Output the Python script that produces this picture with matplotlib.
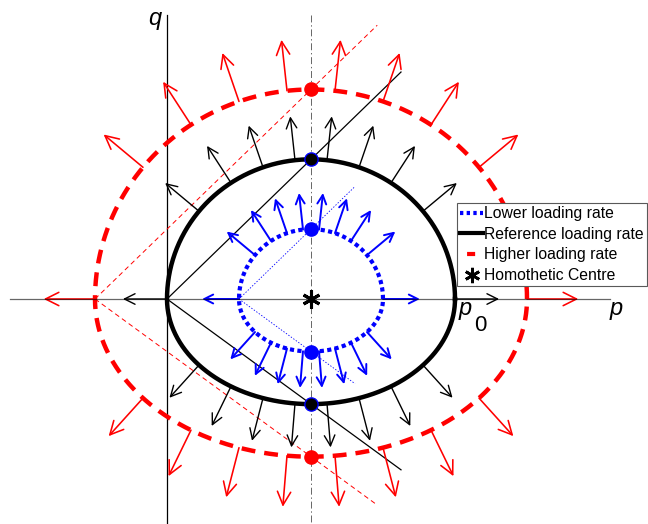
import numpy as np
import matplotlib
matplotlib.use('Agg')
import matplotlib.pyplot as plt
from matplotlib.lines import Line2D

plt.rcParams['font.family'] = ['Liberation Sans', 'DejaVu Sans']
plt.rcParams['lines.scale_dashes'] = False

# Yield surface (elliptical, different slopes in compression / extension)
p0 = 1.0
M_comp = 0.97
M_ext = 0.73
centre_p = 0.5          # homothetic centre sits at (p0/2, 0)

rate_labels = ['Lower loading rate', 'Reference loading rate', 'Higher loading rate']
rate_scale = [0.5, 1.0, 1.5]        # homothetic size of each surface
arrow_len = [0.128, 0.153, 0.178]    # length of the plastic flow vectors
line_reach = [0.403, 0.8125, 0.98]   # p-extent of the M lines from each apex
n_arrows = 10

colors = ['#0000ff', 'k', '#ff0000']
curve_ls = [(0, (3.0, 2.4)), '-', (0, (10, 6.5))]
curve_lw = [3.0, 3.2, 3.2]
line_ls = [(0, (1.0, 1.2)), '-', (0, (3.5, 2.5))]
line_lw = [0.6, 0.9, 0.7]
arrow_lw = [1.4, 1.0, 1.15]
head_scale = [16, 19, 24]
dot_edge = ['#0000ff', '#0000ff', '#ff0000']

px = 288.0  # pixels per unit p0
W, H = 648, 524
x_apex, y_axis = 167, 299


def surface(s, n=600):
    r = 0.5 * s * p0
    t = np.linspace(0, 2 * np.pi, n)
    m = np.where(np.sin(t) >= 0, M_comp, M_ext)
    return centre_p + r * np.cos(t), m * r * np.sin(t)


def flow_vectors(s, length):
    a = centre_p - 0.5 * s * p0
    b = centre_p + 0.5 * s * p0
    p = np.linspace(a, b, n_arrows)
    h = np.sqrt(np.clip((p - a) * (b - p), 0, None))
    out = []
    for M, sign in ((M_comp, 1), (M_ext, -1)):
        q = sign * M * h
        dp = 2 * p - a - b
        dq = 2 * q / M ** 2
        n = np.hypot(dp, dq)
        for i in range(n_arrows):
            if sign < 0 and (i == 0 or i == n_arrows - 1):
                continue
            out.append((p[i], q[i], p[i] + length * dp[i] / n[i], q[i] + length * dq[i] / n[i]))
    return out


fig = plt.figure(figsize=(W / 100, H / 100), dpi=100)
ax = fig.add_axes([0, 0, 1, 1])
ax.set_xlim(-x_apex / px, (W - x_apex) / px)
ax.set_ylim(-(H - y_axis) / px, y_axis / px)
ax.set_aspect('equal')
ax.axis('off')

# axes and the vertical through the homothetic centre
ax.plot([0, 0], [0.986, -0.8], color='k', lw=0.9, zorder=1)
ax.plot([-0.545, 1.538], [0, 0], color='k', lw=0.9, alpha=0.6, zorder=4.5)
ax.plot([centre_p, centre_p], [0.986, -0.8], color='0.3', lw=0.6,
        ls=(0, (5, 2, 1, 2)), zorder=1)

for s, c, L, reach, cls, clw, lls, llw, alw, hs, de in zip(
        rate_scale, colors, arrow_len, line_reach, curve_ls, curve_lw,
        line_ls, line_lw, arrow_lw, head_scale, dot_edge):
    a = centre_p - 0.5 * s * p0
    # M lines through the apex
    ax.plot([a, a + reach], [0, M_comp * reach], color=c, lw=llw, ls=lls, zorder=2)
    ax.plot([a, a + reach], [0, -M_ext * reach], color=c, lw=llw, ls=lls, zorder=2)
    # surface
    ps, qs = surface(s)
    ax.plot(ps, qs, color=c, lw=clw, ls=cls, dash_capstyle='butt', zorder=3)
    # flow vectors normal to the surface
    for p1, q1, p2, q2 in flow_vectors(s, L):
        ax.annotate('', xy=(p2, q2), xytext=(p1, q1), zorder=4,
                    arrowprops=dict(arrowstyle='->', color=c, lw=alw,
                                    shrinkA=0, shrinkB=0, mutation_scale=hs))
    # peak points on the vertical through the centre
    r = 0.5 * s * p0
    ax.plot([centre_p, centre_p], [M_comp * r, -M_ext * r], 'o', ms=9.5,
            mfc=c, mec=de, mew=1, zorder=5)

ax.plot([centre_p], [0], marker=(6, 2, 0), ms=13, mew=2.2, color='k', ls='none', zorder=6)

ax.text(-0.042, 0.951, 'q', fontsize=17, style='italic', ha='center', va='baseline')
ax.text(1.561, -0.0556, 'p', fontsize=17, style='italic', ha='center', va='baseline')
ax.text(1.035, -0.0556, 'p', fontsize=17, style='italic', ha='center', va='baseline')
ax.text(1.087, -0.111, '0', fontsize=16, ha='center', va='baseline')

handles = [
    Line2D([], [], color=colors[0], lw=3.0, ls=(0, (2.4, 2.4)), dash_capstyle='butt'),
    Line2D([], [], color=colors[1], lw=3.0),
    Line2D([], [], color=colors[2], lw=3.0, ls=(11.5, (5.8, 10.8)), dash_capstyle='butt'),
    Line2D([], [], color='k', marker=(6, 2, 0), ms=11, mew=2, ls='none'),
]
labels = rate_labels + ['Homothetic Centre']
leg = fig.legend(handles, labels, loc='upper left',
                 bbox_to_anchor=(457 / W, 1 - 203 / H), borderaxespad=0,
                 fontsize=11.3, frameon=True, fancybox=False, framealpha=1,
                 edgecolor='0.35', borderpad=0.2, handlelength=1.45,
                 handletextpad=0.1, labelspacing=0.36)
leg.get_frame().set_linewidth(0.8)

fig.savefig('out.png', dpi=100)
